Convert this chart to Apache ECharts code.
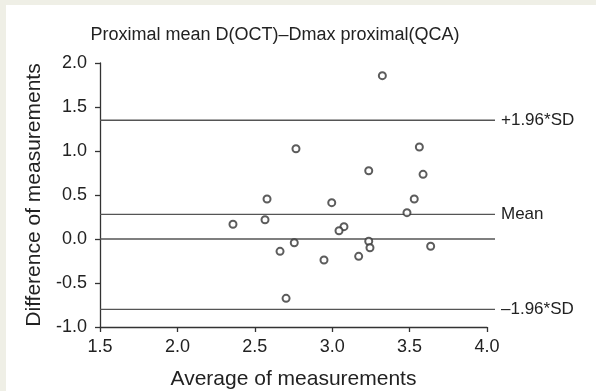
<!DOCTYPE html>
<html>
<head>
<meta charset="utf-8">
<script src="https://cdn.jsdelivr.net/npm/echarts@6/dist/echarts.min.js"></script>
<style>
  html, body { margin: 0; padding: 0; background: #efefe6; }
  #panel { position: absolute; left: 6px; top: 5px; width: 590px; height: 386px; background: #ffffff; }
  #chart { position: absolute; left: 0; top: 0; width: 596px; height: 391px; }
</style>
</head>
<body>
<div id="panel"></div>
<div id="chart"></div>
<script>
// Data
const titleText = 'Proximal mean D(OCT)\u2013Dmax proximal(QCA)';
const xAxisName = 'Average of measurements';
const yAxisName = 'Difference of measurements';

const avgValues  = [3.324, 2.766, 2.579, 2.359, 2.566, 2.755, 2.663, 2.702, 3.563, 3.236, 3.587, 2.997, 3.530, 3.483, 3.076, 3.044, 3.236, 3.244, 3.636, 3.171, 2.947];
const diffValues = [1.856, 1.026, 0.455, 0.167, 0.219, -0.042, -0.140, -0.674, 1.045, 0.776, 0.735, 0.413, 0.455, 0.299, 0.140, 0.094, -0.026, -0.099, -0.083, -0.197, -0.239];

const refLineValues = [1.35, 0.28, 0.0, -0.80];
const refLineLabels = ['+1.96*SD', 'Mean', '', '\u20131.96*SD'];
const refLineStart = 1.5;
const refLineEnd = 4.05;

const xMin = 1.5, xMax = 4.0, xStep = 0.5;
const yMin = -1.0, yMax = 2.0, yStep = 0.5;

const FONT = '"Liberation Sans", Arial, sans-serif';
const chart = echarts.init(document.getElementById('chart'), null, { renderer: 'canvas' });

const refSeries = refLineValues.map((v, i) => ({
  type: 'line',
  xAxisIndex: 1,
  yAxisIndex: 1,
  data: [[refLineStart, v], [refLineEnd, v]],
  symbol: 'none',
  clip: false,
  silent: true,
  animation: false,
  z: 1,
  lineStyle: { color: '#555555', width: 1.4 },
  endLabel: {
    show: refLineLabels[i] !== '',
    formatter: () => refLineLabels[i],
    color: '#222',
    fontFamily: FONT,
    fontSize: 17,
    distance: 6
  }
}));

chart.setOption({
  backgroundColor: 'transparent',
  animation: false,
  title: {
    text: titleText,
    left: 270,
    top: 21,
    textAlign: 'center',
    textStyle: { fontFamily: FONT, fontSize: 18, fontWeight: 'normal', color: '#222' }
  },
  grid: [
    { left: 100, right: 109, top: 63, bottom: 64, containLabel: false, outerBoundsMode: 'none' },
    { left: 100, right: 101, top: 63, bottom: 64, containLabel: false, outerBoundsMode: 'none' }
  ],
  xAxis: [{
    type: 'value',
    gridIndex: 0,
    min: xMin, max: xMax, interval: xStep,
    name: xAxisName,
    nameLocation: 'middle',
    nameGap: 42,
    nameTextStyle: { fontFamily: FONT, fontSize: 21, color: '#222' },
    axisLine: { show: true, onZero: false, lineStyle: { color: '#333', width: 1.3 } },
    axisTick: { show: true, length: 5, lineStyle: { color: '#333', width: 1.3 } },
    axisLabel: { fontFamily: FONT, fontSize: 18, color: '#222', margin: 11, formatter: v => v.toFixed(1) },
    splitLine: { show: false }
  }, {
    type: 'value',
    gridIndex: 1,
    min: refLineStart, max: refLineEnd,
    show: false
  }],
  yAxis: [{
    type: 'value',
    gridIndex: 0,
    min: yMin, max: yMax, interval: yStep,
    name: yAxisName,
    nameLocation: 'middle',
    nameGap: 50,
    nameTextStyle: { fontFamily: FONT, fontSize: 21, color: '#222' },
    axisLine: { show: true, onZero: false, lineStyle: { color: '#333', width: 1.3 } },
    axisTick: { show: true, length: 5, lineStyle: { color: '#333', width: 1.3 } },
    axisLabel: { fontFamily: FONT, fontSize: 18, color: '#222', margin: 13, formatter: v => v.toFixed(1) },
    splitLine: { show: false }
  }, {
    type: 'value',
    gridIndex: 1,
    min: yMin, max: yMax,
    show: false
  }],
  series: [
    ...refSeries,
    {
      type: 'scatter',
      xAxisIndex: 0,
      yAxisIndex: 0,
      data: avgValues.map((x, i) => [x, diffValues[i]]),
      symbol: 'emptyCircle',
      symbolSize: 7,
      clip: false,
      z: 3,
      itemStyle: { color: '#333', borderColor: '#333', borderWidth: 1.4 }
    }
  ]
});
</script>
</body>
</html>
